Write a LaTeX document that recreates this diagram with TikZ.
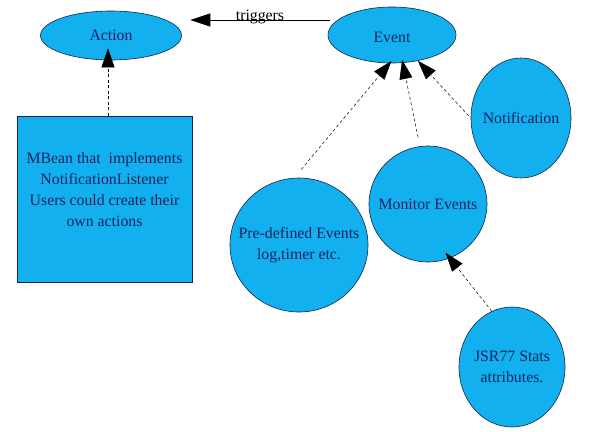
\documentclass[tikz,border=0pt]{standalone}
\usepackage{fontspec}
\setmainfont{Liberation Serif}
\usetikzlibrary{shapes.geometric,arrows.meta}
\definecolor{fillblue}{RGB}{18,176,238}
\definecolor{edgeblue}{RGB}{20,35,75}
\definecolor{textblue}{RGB}{20,35,95}
\begin{document}
\begin{tikzpicture}[x=1pt,y=-1pt,
  blob/.style={ellipse,draw=edgeblue,line width=0.6pt,fill=fillblue,inner sep=0pt},
  blobtext/.style={text=textblue,align=center,inner sep=0pt,font=\fontsize{15.8}{20.5}\selectfont},
  boxshape/.style={rectangle,draw=edgeblue,line width=0.6pt,fill=fillblue,inner sep=0pt},
  boxtext/.style={text=textblue,align=center,font=\fontsize{15.8}{21}\selectfont,inner sep=0pt},
  dep/.style={dashed,dash pattern=on 3pt off 2.5pt,line width=0.5pt,
    -{Triangle[length=19pt,width=13pt]}},
  trig/.style={line width=0.8pt,-{Triangle[length=20pt,width=13pt]}}]
\path[use as bounding box,fill=white] (0,0) rectangle (602,431);

\node[blob,minimum width=141pt,minimum height=49pt,
  label={[blobtext]center:Action}] (action) at (111,35.5) {};
\node[blob,minimum width=128pt,minimum height=56pt,
  label={[blobtext,yshift=-2pt]center:Event}] (event) at (392,35) {};
\node[boxshape,minimum width=175pt,minimum height=166pt] (mbean) at (104.5,199) {};
\node[boxtext] (mbeantext) at (104.5,189.5) {MBean that\ \ implements\\NotificationListener\\Users could create their\\own actions};
\node[blob,minimum width=138pt,minimum height=134pt,
  label={[blobtext]center:{Pre-defined Events\\log,timer etc.}}] (pre) at (299,245) {};
\node[blob,minimum width=118pt,minimum height=116pt,
  label={[blobtext]center:Monitor Events}] (monitor) at (428,204) {};
\node[blob,minimum width=100pt,minimum height=120pt,
  label={[blobtext]center:Notification}] (notif) at (521,118) {};
\node[blob,minimum width=106pt,minimum height=120pt,
  label={[blobtext]center:{JSR77 Stats\\attributes.}}] (jsr) at (512,367) {};

\draw[trig] ([xshift=2pt,yshift=15pt]event.west) -- ([xshift=8.5pt,yshift=15.5pt]action.east)
  node[midway,yshift=3pt,inner sep=0pt,font=\fontsize{15.8}{18}\selectfont] (triglabel) {triggers};
\draw[dep,shorten >=-12pt] ([xshift=-3pt]mbean.north -| action.south) -- ([xshift=-3pt]action.south);
\draw[dep,shorten <=11pt,shorten >=-3pt] (pre.94.5) -- (event.265);
\draw[dep,shorten <=9pt,shorten >=-3pt] (monitor.98.6) -- (event.291.8);
\draw[dep,shorten <=3pt] (notif.180) -- (event.315);
\draw[dep,shorten >=-7pt] (jsr.110) -- (monitor.292.3);
\end{tikzpicture}
\end{document}
